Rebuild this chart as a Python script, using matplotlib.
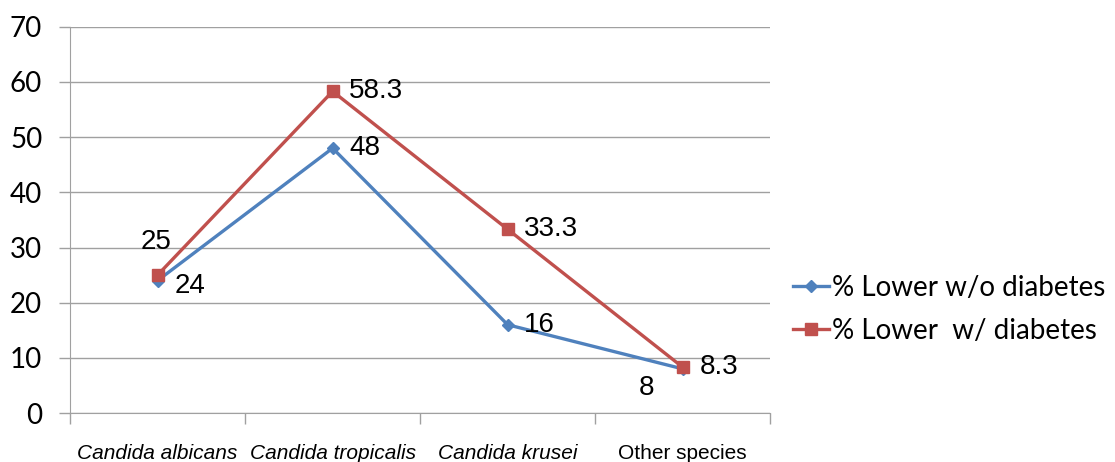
import matplotlib
matplotlib.use("Agg")
import matplotlib.pyplot as plt

categories = ["Candida albicans", "Candida tropicalis", "Candida krusei", "Other species"]
category_italic = [True, True, True, False]
without_diabetes = [24, 48, 16, 8]
with_diabetes = [25, 58.3, 33.3, 8.3]
series_names = ["% Lower w/o diabetes", "% Lower  w/ diabetes"]
yticks = [0, 10, 20, 30, 40, 50, 60, 70]

blue = "#4F81BD"
red = "#C0504D"
grid_c = "#A0A0A0"

fig = plt.figure(figsize=(11.15, 4.62), dpi=100)
ax = fig.add_axes([0.0628, 0.106, 0.628, 0.836])

x = list(range(len(categories)))
l1, = ax.plot(x, without_diabetes, color=blue, lw=2.4, marker="D", ms=6,
              markerfacecolor=blue, markeredgecolor=blue, label=series_names[0], zorder=3)
l2, = ax.plot(x, with_diabetes, color=red, lw=2.4, marker="s", ms=9,
              markerfacecolor=red, markeredgecolor=red, label=series_names[1], zorder=4)

ax.set_xlim(-0.5, len(categories) - 0.5)
ax.set_ylim(0, 70)
ax.set_yticks(yticks)
ax.yaxis.grid(True, color=grid_c, lw=1)
ax.set_axisbelow(True)

for s in ["top", "right"]:
    ax.spines[s].set_visible(False)
ax.spines["left"].set_color(grid_c)
ax.spines["bottom"].set_color(grid_c)

ax.set_xticks([i - 0.5 for i in range(len(categories) + 1)], minor=False)
ax.set_xticklabels([])
ax.tick_params(axis="x", which="major", length=8, color=grid_c, width=1)
ax.set_xticks(x, minor=True)
ax.set_xticklabels(categories, minor=True, family="Liberation Sans", fontsize=15)
for t, it in zip(ax.get_xticklabels(minor=True), category_italic):
    t.set_fontstyle("italic" if it else "normal")
ax.tick_params(axis="x", which="minor", length=0, pad=22)
ax.tick_params(axis="y", length=8, color=grid_c, width=1, labelsize=20, pad=12)
for t in ax.get_yticklabels():
    t.set_family("Lato")

lab_font = dict(family="Liberation Sans", fontsize=20, color="black")
blue_offsets = [(12, -4), (12, 0), (12, 0), (-32, -14)]
red_offsets = [(-12, 24), (12, 0), (12, 0), (12, 0)]
for i, v in enumerate(without_diabetes):
    ax.annotate(f"{v:g}", (x[i], v), xytext=blue_offsets[i], textcoords="offset points",
                ha="left", va="center", **lab_font)
for i, v in enumerate(with_diabetes):
    ax.annotate(f"{v:g}", (x[i], v), xytext=red_offsets[i], textcoords="offset points",
                ha="left", va="center", **lab_font)

leg = fig.legend(handles=[l1, l2], loc="center left", bbox_to_anchor=(0.689, 0.33),
                 frameon=False, prop={"family": "Lato", "size": 20},
                 handlelength=1.3, handletextpad=0.1, labelspacing=0.6)

fig.savefig("out.png", dpi=100)
